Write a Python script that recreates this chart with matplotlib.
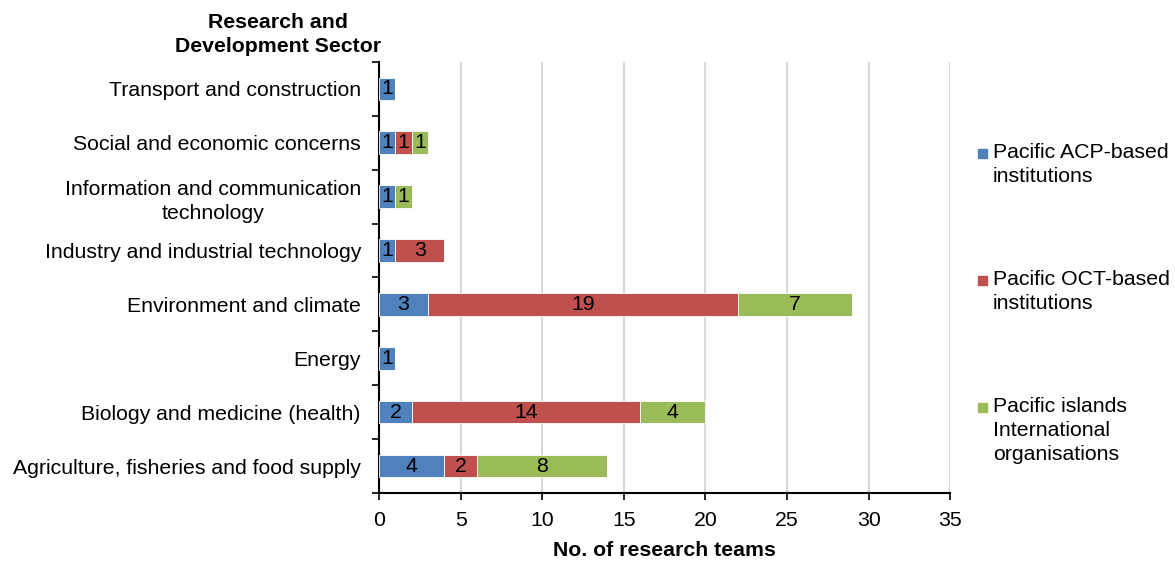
import matplotlib.pyplot as plt
from matplotlib.patches import Rectangle

plt.rcParams['font.family'] = ['Liberation Sans', 'DejaVu Sans']

# data, bottom to top
sectors = ["Agriculture, fisheries and food supply", "Biology and medicine (health)",
           "Energy", "Environment and climate", "Industry and industrial technology",
           "Information and communication\ntechnology", "Social and economic concerns",
           "Transport and construction"]
acp = [4, 2, 1, 3, 1, 1, 1, 1]
oct_ = [2, 14, 0, 19, 3, 0, 1, 0]
intl = [8, 4, 0, 7, 0, 1, 1, 0]
series_names = ["Pacific ACP-based\ninstitutions", "Pacific OCT-based\ninstitutions",
                "Pacific islands\nInternational\norganisations"]
colors = ["#4F81BD", "#C0504D", "#9BBB59"]

fs = 15.3
ls = 1.33
fig = plt.figure(figsize=(11.75, 5.62), dpi=100)
ax = fig.add_axes([0.3226, 0.1228, 0.486, 0.767])

y = list(range(len(sectors)))
left = [0] * len(sectors)
for vals, c in zip([acp, oct_, intl], colors):
    bars = ax.barh(y, vals, left=left, height=0.42, color=c, edgecolor="white",
                   linewidth=0.6, zorder=3)
    for b, v in zip(bars, vals):
        if v > 0:
            ax.text(b.get_x() + b.get_width() / 2, b.get_y() + b.get_height() / 2,
                    str(v), ha="center", va="center", fontsize=fs, zorder=4)
    left = [l + v for l, v in zip(left, vals)]

ax.set_xlim(0, 35)
ax.set_ylim(-0.5, len(sectors) - 0.5)
ax.set_xticks(range(0, 36, 5))
ax.set_yticks(y)
ax.set_yticklabels(sectors, fontsize=fs, linespacing=ls)
ax.set_yticks([i + 0.5 for i in range(-1, len(sectors))], minor=True)
ax.tick_params(axis="y", which="major", length=0, pad=13)
ax.tick_params(axis="y", which="minor", length=5, width=1.2, direction="out")
ax.tick_params(axis="x", length=5, width=1.2, direction="out", labelsize=fs, pad=8)
for lbl in ax.get_yticklabels():
    lbl.set_horizontalalignment("right")
    lbl.set_multialignment("center")
ax.grid(axis="x", color="#D9D9D9", linewidth=1.5, zorder=0)
ax.spines["top"].set_visible(False)
ax.spines["right"].set_visible(False)
ax.spines["left"].set_linewidth(1.5)
ax.spines["bottom"].set_linewidth(1.5)
ax.set_xlabel("No. of research teams", fontsize=fs, fontweight="bold", labelpad=8)

fig.text(0.2366, 0.9386, "Research and\nDevelopment Sector", ha="center", va="center",
         fontsize=fs, fontweight="bold", linespacing=ls)

# legend
leg_y = [0.7278, 0.5018, 0.2758]
for name, c, ly in zip(series_names, colors, leg_y):
    fig.patches.append(Rectangle((0.8325, ly - 0.0095), 0.0078, 0.0165, color=c,
                                 transform=fig.transFigure, figure=fig))
    fig.text(0.845, ly + 0.018, name, ha="left", va="top", fontsize=fs, linespacing=ls)

fig.savefig("out.png", dpi=100)
